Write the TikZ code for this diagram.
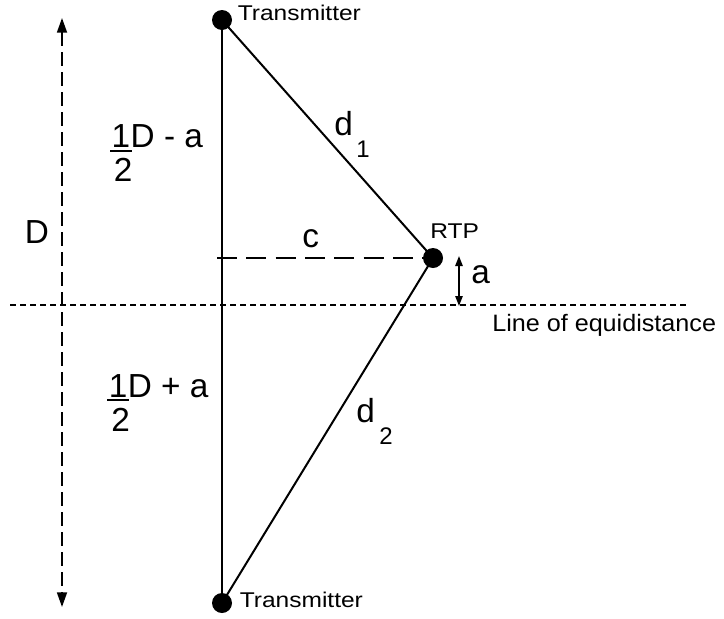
\documentclass[tikz,border=0pt]{standalone}
\usepackage{fontspec}
\setmainfont{Liberation Sans}
\usepackage{graphicx}
\usetikzlibrary{arrows.meta}
\begin{document}
\begin{tikzpicture}[x=0.75pt,y=-0.75pt,
  big/.style={inner sep=0pt, anchor=base west, font=\fontsize{25}{30}\selectfont},
  sml/.style={inner sep=0pt, anchor=base west, font=\fontsize{16}{19}\selectfont},
  subs/.style={inner sep=0pt, anchor=base west, font=\fontsize{18}{21}\selectfont},
  dot/.style={circle, fill=black, inner sep=0pt, minimum size=15pt},
  edge/.style={line width=1.5pt},
  dimline/.style={line width=1.3pt, dash pattern=on 10pt off 5pt, {Triangle[length=11pt,width=7.5pt]}-{Triangle[length=11pt,width=7.5pt]}},
  cline/.style={line width=1.5pt, dash pattern=on 15pt off 7pt},
  equi/.style={line width=1.2pt, dash pattern=on 4.5pt off 3pt},
  smallarrow/.style={line width=1.3pt, {Triangle[length=7.5pt,width=5.5pt]}-{Triangle[length=7.5pt,width=5.5pt]}},
  bar/.style={line width=1.5pt}]
\useasboundingbox (0,0) rectangle (724,618);

% key points
\coordinate (t1) at (222,20);
\coordinate (t2) at (222,603);
\coordinate (rtp) at (433,258);
\coordinate (cstart) at (217,258);
\coordinate (eqL) at (10,305);
\coordinate (eqR) at (688,305);
\coordinate (Dtop) at (62,18);
\coordinate (Dbot) at (62,607);
\coordinate (atop) at (459,256);
\coordinate (abot) at (459,306);

% lines
\draw[edge] (t1) -- (t2);
\draw[edge] (t1) -- (rtp);
\draw[edge] (rtp) -- (t2);
\draw[cline] (cstart) -- (rtp);
\draw[equi] (eqL) -- (eqR);
\draw[dimline] (Dtop) -- (Dbot);
\draw[smallarrow] (atop) -- (abot);

% dots
\node[dot] (dt1) at (t1) {};
\node[dot] (dt2) at (t2) {};
\node[dot] (drtp) at (rtp) {};

% labels
\node[sml] (lt1) at (237.5,20) {\scalebox{1.15}[1]{Transmitter}};
\node[sml] (lt2) at (239.5,607) {\scalebox{1.15}[1]{Transmitter}};
\node[sml] (lrtp) at (430,238) {\scalebox{1.15}[1]{RTP}};
\node[inner sep=0pt, anchor=base west, font=\fontsize{17.8}{21}\selectfont] (leq) at (492,331) {\scalebox{1.06}[1]{Line of equidistance}};
\node[big] (lc) at (302,247) {c};
\node[big] (lD) at (24.5,243) {D};
\node[big] (la) at (471,283) {a};

\node[big] (d1) at (334,135) {d};
\node[subs] (d1s) at (356,157) {1};
\node[big] (d2) at (356,422) {d};
\node[subs] (d2s) at (379,444) {2};

% top fraction
\node[big] (f1one) at (111.4,147.5) {1};
\node[big] (f1rest) at (f1one.base east) {D - a};
\node[big] (f1two) at (113.7,181.5) {2};
\draw[bar] ([xshift=-1pt,yshift=-2.5pt]f1one.base west) -- ([xshift=1pt,yshift=-2.5pt]f1one.base east);

% bottom fraction
\node[big] (f2one) at (108.5,397) {1};
\node[big] (f2rest) at (f2one.base east) {D + a};
\node[big] (f2two) at (111,431) {2};
\draw[bar] ([xshift=-1pt,yshift=-2.5pt]f2one.base west) -- ([xshift=1pt,yshift=-2.5pt]f2one.base east);
\end{tikzpicture}
\end{document}
